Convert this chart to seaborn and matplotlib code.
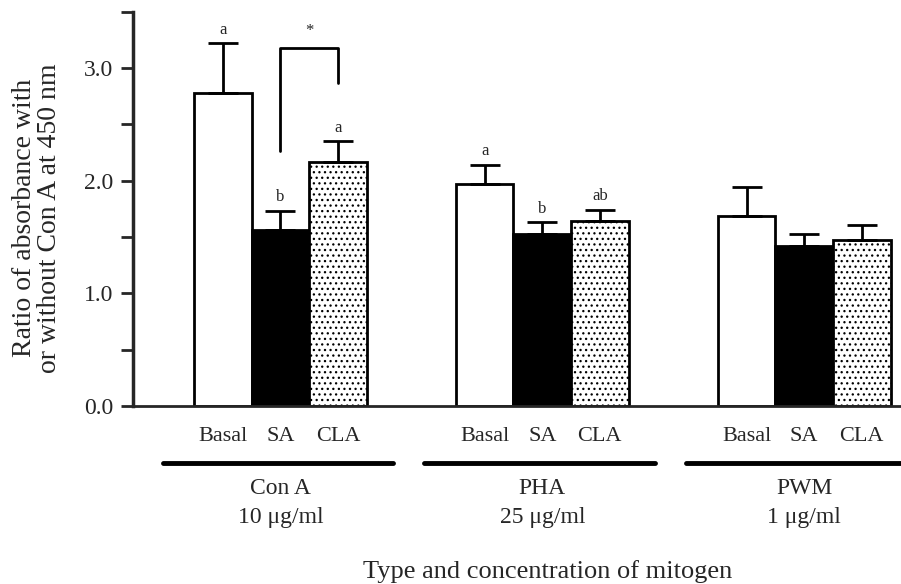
import matplotlib
matplotlib.use("Agg")
import matplotlib.pyplot as plt
import numpy as np
import pandas as pd
import seaborn as sns

# data
groups = ["Con A", "PHA", "PWM"]
group_doses = ["10 \u03bcg/ml", "25 \u03bcg/ml", "1 \u03bcg/ml"]
treatments = ["Basal", "SA", "CLA"]
means_cona = [2.78, 1.56, 2.17]
means_pha = [1.97, 1.53, 1.64]
means_pwm = [1.69, 1.42, 1.47]
sem_cona = [0.44, 0.17, 0.18]
sem_pha = [0.17, 0.10, 0.10]
sem_pwm = [0.25, 0.11, 0.14]
letters_cona = ["a", "b", "a"]
letters_pha = ["a", "b", "ab"]
letters_pwm = ["", "", ""]
# significance bracket between SA and CLA for Con A (left foot, top, right foot)
bracket_y = [2.26, 3.18, 2.87]

means = [means_cona, means_pha, means_pwm]
sems = [sem_cona, sem_pha, sem_pwm]
letters = [letters_cona, letters_pha, letters_pwm]

rows = []
for g, m, s, l in zip(groups, means, sems, letters):
    for t, mv, sv, lv in zip(treatments, m, s, l):
        rows.append({"group": g, "treatment": t, "mean": mv, "sem": sv, "letter": lv})
df = pd.DataFrame(rows)

sns.set_style("ticks")
plt.rcParams["font.family"] = ["Liberation Serif", "DejaVu Serif"]
plt.rcParams["hatch.linewidth"] = 0.9

fig = plt.figure(figsize=(9.01, 5.84), dpi=100)
ax = fig.add_axes([133 / 901, 1 - 406 / 584, (901 - 133) / 901, (406 - 11.7) / 584])

sns.barplot(data=df, x="group", y="mean", hue="treatment", order=groups,
            hue_order=treatments, palette=["white", "black", "white"],
            edgecolor="black", linewidth=2, width=0.66, errorbar=None,
            legend=False, ax=ax, zorder=2)

bar_conts = list(ax.containers)
tick_pos, tick_lab = [], []
for i, cont in enumerate(bar_conts):
    sub = df[df["treatment"] == treatments[i]].set_index("group").loc[groups]
    for bar, (g, r) in zip(cont, sub.iterrows()):
        cx = bar.get_x() + bar.get_width() / 2
        if treatments[i] == "CLA":
            bar.set_hatch("...")
        tick_pos.append(cx)
        tick_lab.append(treatments[i])
        ax.errorbar(cx, r["mean"], yerr=[[0], [r["sem"]]], fmt="none",
                    ecolor="black", elinewidth=2, capsize=10.5, capthick=2,
                    zorder=3)
        if r["letter"]:
            ax.annotate(r["letter"], (cx, r["mean"] + r["sem"]),
                        xytext=(0, 7), textcoords="offset points",
                        ha="center", va="baseline", fontsize=12)

# bracket Con A SA vs CLA
sa_bar, cla_bar = bar_conts[1][0], bar_conts[2][0]
sa_x = sa_bar.get_x() + sa_bar.get_width() / 2
cla_x = cla_bar.get_x() + cla_bar.get_width() / 2
ax.plot([sa_x, sa_x, cla_x, cla_x], [bracket_y[0], bracket_y[1], bracket_y[1], bracket_y[2]],
        color="black", lw=2, clip_on=False)
ax.annotate("*", ((sa_x + cla_x) / 2, bracket_y[1]), xytext=(0, 6),
            textcoords="offset points", ha="center", va="bottom", fontsize=12)

ax.set_ylim(0, 3.5)
ax.set_xlim(-0.563, 2.37)
yt = np.arange(0, 3.51, 0.5)
ax.set_yticks(yt)
ax.set_yticklabels([f"{v:.1f}" if v % 1 == 0 and v < 3.5 else "" for v in yt])
ax.tick_params(axis="y", length=9, width=2, labelsize=17, pad=5)
ax.set_xticks(tick_pos)
ax.set_xticklabels(tick_lab)
ax.tick_params(axis="x", length=0, labelsize=16, pad=15)

sns.despine(ax=ax, top=True, right=True)
ax.spines["left"].set_linewidth(2.5)
ax.spines["bottom"].set_linewidth(2)

ax.set_ylabel("Ratio of absorbance with\nor without Con A at 450 nm",
              fontsize=20, linespacing=1.0)
ax.yaxis.set_label_coords((62 - 133) / (901 - 133), (406 - 218) / (406 - 11.7), transform=ax.transAxes)
ax.set_xlabel("Type and concentration of mitogen", fontsize=19)
ax.xaxis.set_label_coords((548 - 133) / (901 - 133), (406 - 572) / (406 - 11.7), transform=ax.transAxes)
ax.xaxis.label.set_va("center")

# group underlines and group labels
trans = ax.get_xaxis_transform()
px = 1 / (406 - 11.7)
for gi, (g, d) in enumerate(zip(groups, group_doses)):
    ax.plot([gi - 0.45, gi + 0.43], [-57 * px, -57 * px], color="black", lw=3.5,
            transform=trans, clip_on=False, solid_capstyle="round")
    ax.text(gi, -82 * px, g, transform=trans, ha="center", va="center", fontsize=17)
    ax.text(gi, -112 * px, d, transform=trans, ha="center", va="center", fontsize=17)

fig.savefig("out.png", dpi=100)
